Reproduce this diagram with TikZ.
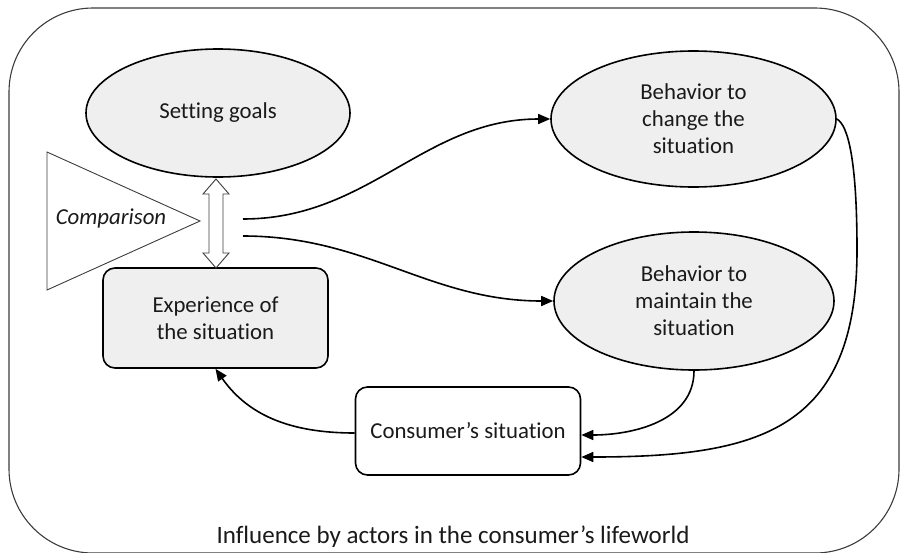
\documentclass[tikz,border=0pt]{standalone}
\usepackage{fontspec}
\setmainfont{Carlito}[Ligatures={NoCommon}]
\usetikzlibrary{arrows.meta,shapes.geometric,calc}
\definecolor{ellfill}{HTML}{EFEFEF}
\definecolor{txt}{HTML}{1A1A1A}
\definecolor{framec}{HTML}{3C3C3C}
\begin{document}
\begin{tikzpicture}[x=1pt,y=-1pt,
  font=\fontsize{22.8}{27}\selectfont, text=txt,
  ell/.style={ellipse, draw=black, line width=1.6pt, fill=ellfill, inner sep=0pt, align=center},
  boxnode/.style={rectangle, rounded corners=12pt, draw=black, line width=1.6pt, inner sep=0pt, align=center},
  conn/.style={draw=black, line width=1.6pt, -{Triangle[length=12pt,width=10pt]}},
  framestyle/.style={draw=framec, line width=1.1pt, rounded corners=84pt},
  tri/.style={draw=framec, line width=0.9pt},
  dbl/.style={draw=framec, line width=0.9pt, fill=white}]
\useasboundingbox (0,0) rectangle (902,552);
\draw[framestyle] (9,8) rectangle (899,553);

\node[ell, minimum width=264pt, minimum height=128pt] (sg) at (218,113) {Setting goals};
\node[ell, minimum width=285pt, minimum height=136pt] (bc) at (693.5,119) {Behavior to\\change the\\situation};
\node[ell, minimum width=280pt, minimum height=138pt] (bm) at (694,301) {Behavior to\\maintain the\\situation};
\node[boxnode, fill=ellfill, minimum width=225pt, minimum height=100pt] (exp) at (215.5,318) {Experience of\\the situation};
\node[boxnode, fill=white, minimum width=225pt, minimum height=88pt] (cs) at (468,431) {Consumer’s situation};

\draw[tri] (47,152) -- (200,221) -- (47,290) -- cycle;
\node (comp) at (111,218) {\itshape Comparison};

\draw[dbl] (216,179) -- (229,194) -- (223,194) -- (223,253) -- (229,253) -- (216,268)
  -- (203,253) -- (209,253) -- (209,194) -- (203,194) -- cycle;

\coordinate (c1) at (243,219);
\coordinate (c2) at (243,236);
\draw[conn] (c1) to[out=0,in=180] (bc.west);
\draw[conn] (c2) to[out=0,in=180] (bm.west);
\draw[conn] (bm.south) to[out=-90,in=0] ([yshift=-4pt]cs.east);
\draw[conn] (bc.east) .. controls (848,125) and (857,160) .. (857,250)
  .. controls (857,430) and (760,457) .. ([yshift=-26pt]cs.east);
\draw[conn] ([yshift=-2pt]cs.west) to[out=180,in=-55] (exp.south);

\node[font=\fontsize{25}{30}\selectfont] (lw) at (453,537) {Influence by actors in the consumer’s lifeworld};
\end{tikzpicture}
\end{document}
